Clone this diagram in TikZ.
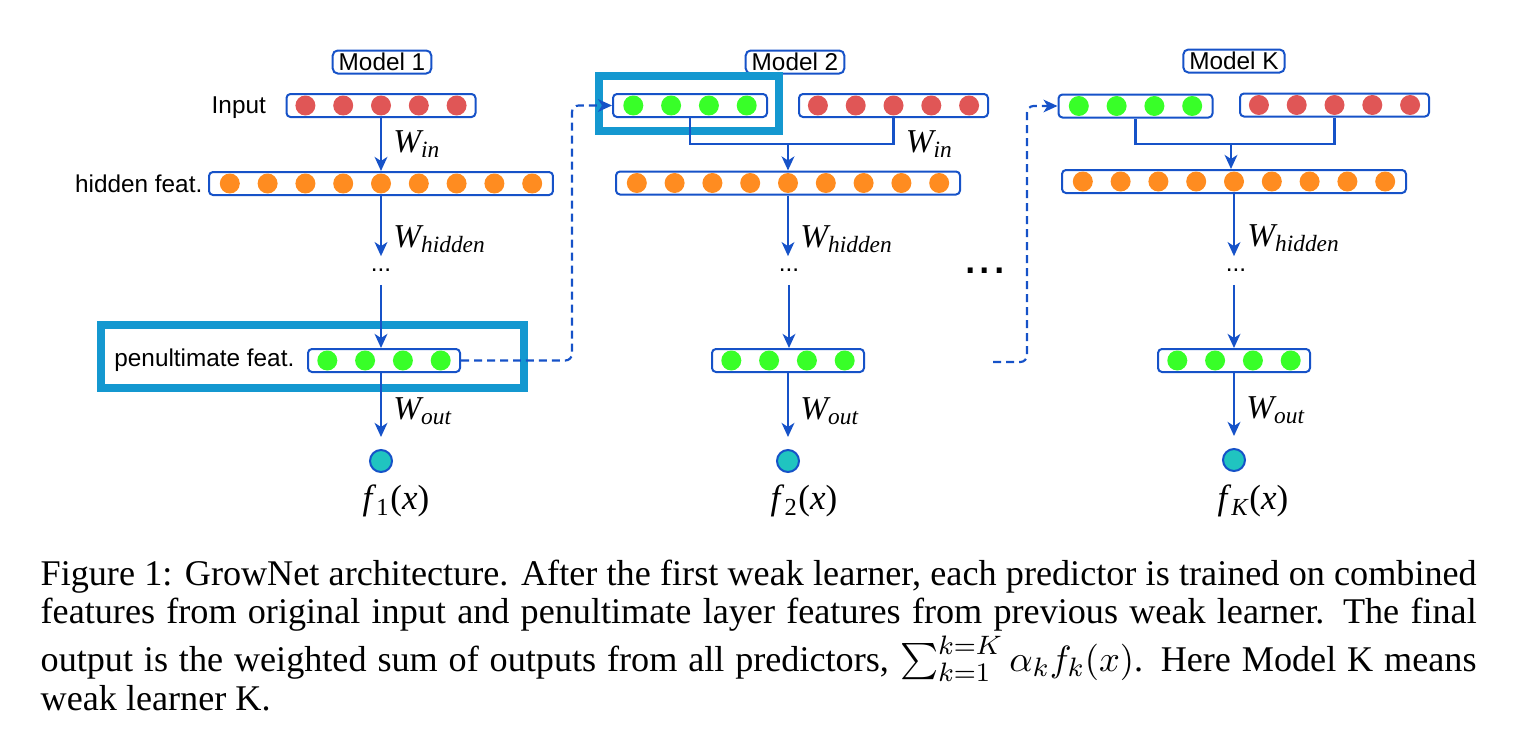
\documentclass[tikz,border=0pt]{standalone}
\usepackage{amsmath,amssymb}
\usepackage[no-math]{fontspec}
\setmainfont{Liberation Serif}
\setsansfont{Liberation Sans}
\usepackage{xcolor}
\usetikzlibrary{positioning}
\usetikzlibrary{arrows.meta,shapes}

\definecolor{lineblue}{RGB}{22,82,200}
\definecolor{inred}{RGB}{224,86,86}
\definecolor{hidorange}{RGB}{255,140,32}
\definecolor{pengreen}{RGB}{56,255,40}
\definecolor{outteal}{RGB}{32,196,192}
\definecolor{hiblue}{RGB}{20,152,208}

\newcommand{\wgt}[1]{{\fontsize{10}{11}\selectfont$\textit{W}_{\textit{#1}}$}}
\newcommand{\fx}[1]{{\fontsize{10.5}{12}\selectfont\textit{f}$_{#1}$(\textit{x})}}
% units of a layer, #1 box, #2 count, #3 colour
\newcommand{\units}[3]{\foreach \u in {1,...,#2}
  \fill[#3] ([xshift={(\u-(#2+1)/2)*11.34pt}]#1.center) circle (3pt);}

\tikzset{
  layer/.style={draw=lineblue, line width=0.6pt, rounded corners=1.2pt,
    minimum height=6.9pt, inner sep=0pt},
  tag/.style={draw=lineblue, line width=0.6pt, rounded corners=1.5pt,
    inner xsep=1.8pt, inner ysep=0pt, minimum height=6.9pt,
    font=\sffamily\fontsize{7.3}{8}\selectfont},
  lbl/.style={inner sep=0pt, font=\sffamily\fontsize{7.3}{8}\selectfont},
  wlab/.style={inner sep=0pt},
  flow/.style={draw=lineblue, line width=0.85pt, ->},
  wire/.style={draw=lineblue, line width=0.85pt},
  link/.style={draw=lineblue, line width=0.65pt, dash pattern=on 2.4pt off 1.5pt,
    rounded corners=2pt, ->},
  hilite/.style={draw=hiblue, line width=2.5pt},
  outunit/.style={circle, draw=lineblue, fill=outteal, line width=0.6pt,
    minimum size=6.6pt, inner sep=0pt},
  capline/.style={anchor=base west, inner sep=0pt,
    font=\fontsize{10.85}{12}\selectfont}
}

\begin{document}
\begin{tikzpicture}[x=0.3pt,y=-0.3pt,>={Stealth[length=4.2pt,width=3.8pt,inset=1.2pt]}]
  \useasboundingbox (0,0) rectangle (1516,734);

  % Model 1
  \node[tag] (m1) at (382,62) {Model 1};
  \node[layer, minimum width=56.7pt] (in1) at (381,105.5) {};
  \units{in1}{5}{inred}
  \node[lbl, left=5.7pt of in1, yshift=-0.5pt] (inlbl) {Input};
  \node[layer, minimum width=103.2pt] (hid1) at (381,183.5) {};
  \units{hid1}{9}{hidorange}
  \node[lbl, left=1.5pt of hid1] (hidlbl) {hidden feat.};
  \node[lbl] (dt1) at (381,270.5) {...};
  \node[layer, minimum width=45.6pt] (pen1) at (384,360.5) {};
  \units{pen1}{4}{pengreen}
  \node[lbl, left=3.6pt of pen1] (penlbl) {penultimate feat.};
  \draw[hilite] (101,325) rectangle (524,388);
  \node[outunit] (o1) at (381,461) {};
  \node (f1) at (396,501) {\fx{\textrm{1}}};
  \draw[flow] (in1.south) -- node[wlab, right=3.3pt] {\wgt{in}} (in1.south |- hid1.north);
  \draw[flow, shorten >=3.6pt] (hid1.south) -- node[wlab, right=3.3pt, pos=0.6] {\wgt{hidden}} (hid1.south |- dt1.north);
  \draw[flow, shorten <=3.6pt] (dt1.south) -- (dt1.south |- pen1.north);
  \draw[flow, shorten >=3.6pt] (o1 |- pen1.south) -- node[wlab, right=3.3pt] {\wgt{out}} (o1.north);

  % Model 2
  \node[tag] (m2) at (795,62) {Model 2};
  \node[layer, minimum width=46.2pt] (g2) at (690,105.5) {};
  \units{g2}{4}{pengreen}
  \node[layer, minimum width=56.7pt] (in2) at (893.5,105.5) {};
  \units{in2}{5}{inred}
  \draw[hilite] (599,76) rectangle (779,131);
  \coordinate (j2) at (788,144);
  \draw[wire] (g2.south) |- (j2) -| (in2.south);
  \node[wlab, anchor=west] at ([xshift=3.5pt]in2.south |- j2) {\wgt{in}};
  \node[layer, minimum width=103.2pt] (hid2) at (788,183) {};
  \units{hid2}{9}{hidorange}
  \node[lbl] (dt2) at (789,270.5) {...};
  \node[layer, minimum width=45.6pt] (pen2) at (788,360.5) {};
  \units{pen2}{4}{pengreen}
  \node[outunit] (o2) at (788,461) {};
  \node (f2) at (804,501) {\fx{\textrm{2}}};
  \draw[flow] (j2) -- (j2 |- hid2.north);
  \draw[flow, shorten >=3.6pt] (hid2.south) -- node[wlab, right=3.3pt, pos=0.6] {\wgt{hidden}} (hid2.south |- dt2.north);
  \draw[flow, shorten <=3.6pt] (dt2.south) -- (dt2.south |- pen2.north);
  \draw[flow, shorten >=3.6pt] (pen2.south) -- node[wlab, right=3.3pt] {\wgt{out}} (o2.north);
  \draw[link] (pen1.east) -- ++(111,0) |- (g2.west);

  \node[lbl, font=\sffamily\fontsize{15.5}{16}\selectfont, anchor=base] (skip) at (985,273.5) {...};

  % Model K
  \node[tag] (mK) at (1234,61) {Model K};
  \node[layer, minimum width=46.2pt] (gK) at (1135.5,106) {};
  \units{gK}{4}{pengreen}
  \node[layer, minimum width=56.7pt] (inK) at (1334.5,105) {};
  \units{inK}{5}{inred}
  \coordinate (jK) at (1231,144);
  \draw[wire] (gK.south) |- (jK) -| (inK.south);
  \node[layer, minimum width=103.2pt] (hidK) at (1234,181.5) {};
  \units{hidK}{9}{hidorange}
  \node[lbl] (dtK) at (1236,270.5) {...};
  \node[layer, minimum width=45.6pt] (penK) at (1234,360.5) {};
  \units{penK}{4}{pengreen}
  \node[outunit] (oK) at (1234,460) {};
  \node (fK) at (1253,501) {\fx{\textit{K}}};
  \draw[flow] (jK) -- (jK |- hidK.north);
  \draw[flow, shorten >=3.6pt] (hidK.south) -- node[wlab, right=3.6pt, pos=0.6] {\wgt{hidden}} (hidK.south |- dtK.north);
  \draw[flow, shorten <=3.6pt] (dtK.south -| hidK.south) -- (penK.north);
  \draw[flow, shorten >=3.6pt] (penK.south) -- node[wlab, right=3.3pt] {\wgt{out}} (oK.north);
  \coordinate (tail2) at (993,362);
  \draw[link] (tail2) -- ++(34,0) |- (gK.west);

  % caption
  \node[capline] (cap1) at (40,585) {\makebox[430.8pt][s]{Figure 1: GrowNet architecture. After the first weak learner, each predictor is trained on combined}};
  \node[capline] (cap2) at (40,623) {\makebox[430.8pt][s]{features from original input and penultimate layer features from previous weak learner. The final}};
  \node[capline] (cap3) at (40,671) {\makebox[430.8pt][s]{output is the weighted sum of outputs from all predictors, $\sum_{k=1}^{k=K} \alpha_k f_k(x)$. Here Model K means}};
  \node[capline] (cap4) at (40,710) {weak learner K.};
\end{tikzpicture}
\end{document}
